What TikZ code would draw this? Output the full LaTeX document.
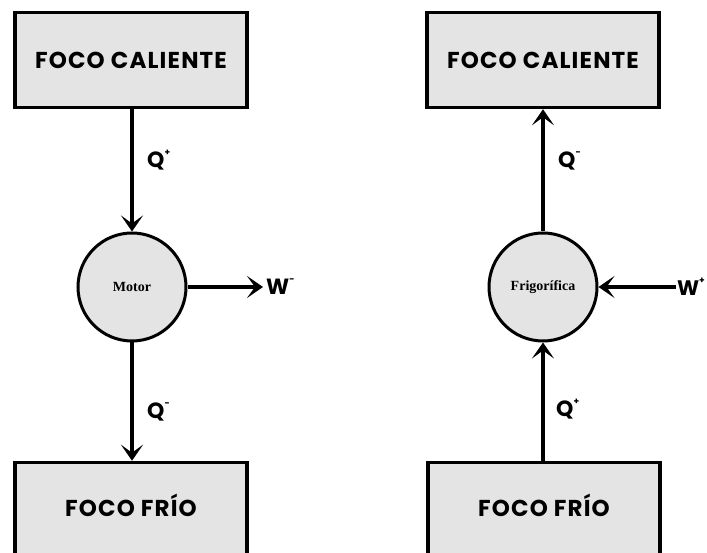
\documentclass[tikz,border=0pt]{standalone}
\usepackage{fontspec}
\setmainfont{Poppins}
\newfontfamily\circfont{Liberation Serif}
\usetikzlibrary{arrows.meta}
\definecolor{boxgray}{RGB}{228,228,228}
\newcommand{\supmark}[1]{\raisebox{0.55em}{\fontsize{9}{10}\selectfont #1}}
\tikzset{
  foco/.style={draw=black, line width=3.5pt, fill=boxgray, minimum width=232pt, minimum height=95pt, inner sep=0pt, font=\fontsize{23}{26}\selectfont\bfseries\addfontfeatures{LetterSpace=5}},
  maq/.style={draw=black, circle, line width=3pt, fill=boxgray, minimum size=108pt, inner sep=0pt, font=\circfont\fontsize{14}{16}\selectfont\bfseries},
  flujo/.style={line width=3.5pt, -{Stealth[length=16pt, width=22pt, inset=8pt]}},
  etq/.style={font=\fontsize{22}{24}\selectfont\bfseries, inner sep=0pt}
}
\begin{document}
\begin{tikzpicture}[x=1pt,y=1pt]
\useasboundingbox (0,0) rectangle (707,553);
\clip (0,0) rectangle (707,553);
% left engine
\node[foco] (hotL) at (131,493) {FOCO CALIENTE};
\node[maq] (motor) at (132,266) {Motor};
\node[foco] (coldL) at (131,43) {\raisebox{10pt}{FOCO FRÍO}};
\coordinate (wL) at (263,266);
\node[etq, anchor=west] (WL) at (266,266) {W\supmark{-}};
\draw[flujo] (hotL.south -| motor) -- (motor.north);
\draw[flujo] (motor.south) -- (coldL.north -| motor);
\draw[flujo] (motor.east) -- (wL);
\node[etq, anchor=west] (QpL) at (147,393) {Q\supmark{+}};
\node[etq, anchor=west] (QmL) at (147,141) {Q\supmark{-}};
% right refrigerator
\node[foco] (hotR) at (543,493) {FOCO CALIENTE};
\node[maq] (frig) at (543,266) {Frigorífica};
\node[foco] (coldR) at (544,43) {\raisebox{10pt}{FOCO FRÍO}};
\coordinate (wR) at (676,266);
\node[etq, anchor=east, font=\fontsize{21}{24}\selectfont\bfseries] (WR) at (705,266) {W\supmark{+}};
\draw[flujo] (wR) -- (frig.east);
\draw[flujo] (frig.north) -- (hotR.south -| frig);
\draw[flujo] (coldR.north -| frig) -- (frig.south);
\node[etq, anchor=west] (QmR) at (558,392) {Q\supmark{-}};
\node[etq, anchor=west] (QpR) at (556,144) {Q\supmark{+}};
\end{tikzpicture}
\end{document}
